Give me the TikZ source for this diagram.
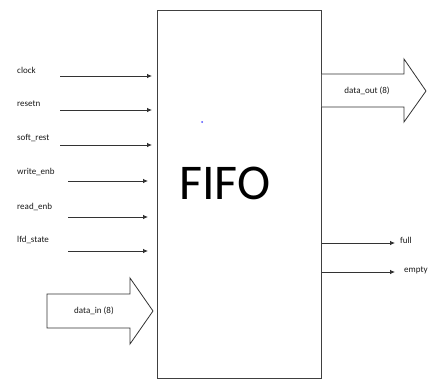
\documentclass[tikz,border=0pt]{standalone}
\usepackage{fontspec}
\setmainfont{Carlito}
\usetikzlibrary{arrows.meta,positioning,calc}

\begin{document}
\begin{tikzpicture}[x=1pt, y=-1pt,
  sig/.style={draw=black!80, line width=0.75pt, -{Latex[length=5pt,width=4.5pt]}},
  pinlabel/.style={font=\fontsize{9}{10}\selectfont, text=black!90, anchor=west, inner sep=0pt},
  bus/.style={draw=black!80, line width=0.8pt, fill=white, line join=miter}]
\useasboundingbox (0,0) rectangle (437,380);

% FIFO block
\node[draw=black!75, line width=0.75pt, minimum width=164pt, minimum height=368pt,
      anchor=north west, inner sep=0pt] (fifo) at (157,10) {};
\node[font=\fontsize{50}{50}\selectfont, text=black] (title) at (225,183) {FIFO};
\fill[blue!70] (202,122) circle (1pt);

% single bit inputs
\foreach \nm/\txt/\ly/\ay/\sx/\ex in {clk/clock/70/76/60/152, rst/resetn/104/110/60/152,
    srst/soft\_rest/138/145/60/152, wen/write\_enb/172/181/68/148,
    ren/read\_enb/207/217/68/148, lfd/lfd\_state/240/251/68/148} {
  \node[pinlabel] (\nm) at (17,\ly) {\txt};
  \coordinate (\nm-s) at (\sx,\ay);
  \coordinate (\nm-e) at (\ex,\ay);
  \draw[sig] (\nm-s) -- (\nm-e);
}

% data_in bus
\draw[bus] (47,294) -- (130,294) -- (130,278) -- (153,311) -- (130,344) -- (130,328) -- (47,328) -- cycle;
\node[pinlabel, anchor=center] (din) at (94,311) {data\_in (8)};

% data_out bus
\draw[bus] (fifo.east |- 0,74) -- (404,74) -- (404,59) -- (426,91) -- (404,122) -- (404,107) -- (fifo.east |- 0,107);
\node[pinlabel, anchor=center] (dout) at (367,91) {data\_out (8)};

% status outputs
\foreach \nm/\txt/\ly/\ay/\lx in {full/full/240/243/400, empty/empty/270/272/404} {
  \coordinate (\nm-s) at (fifo.east |- 0,\ay);
  \coordinate (\nm-e) at (395,\ay);
  \draw[sig] (\nm-s) -- (\nm-e);
  \node[pinlabel] (\nm) at (\lx,\ly) {\txt};
}

\end{tikzpicture}
\end{document}
